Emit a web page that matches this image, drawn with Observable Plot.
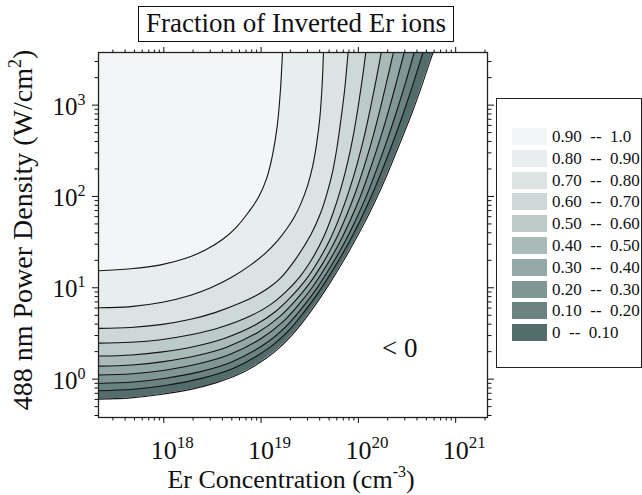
<!DOCTYPE html>
<html>
<head>
<meta charset="utf-8">
<script src="https://cdn.jsdelivr.net/npm/d3@7"></script>
<script src="https://cdn.jsdelivr.net/npm/@observablehq/plot@0.6"></script>
<style>
  body { margin: 0; background: #fff; }
  #wrap { position: relative; width: 642px; height: 495px; overflow: hidden;
          font-family: "Liberation Serif", "Times New Roman", serif; color: #111; }
  #chart { position: absolute; left: 0; top: 0; }
  #title { position: absolute; left: 138px; top: 6px; width: 316px; height: 36px; box-sizing: border-box;
           border: 1px solid #111; font-size: 27px; line-height: 33px; text-align: center; white-space: nowrap;
           font-family: "Liberation Serif", "Times New Roman", serif; }
  #legend { position: absolute; left: 496px; top: 98px; width: 146px; height: 270px; box-sizing: border-box;
            border: 1px solid #222; background: #fff; }
  .sw { position: absolute; left: 15px; width: 35px; height: 17px; }
  .lb { position: absolute; left: 55px; font-size: 17px; line-height: 17px; white-space: pre;
        font-family: "Liberation Serif", "Times New Roman", serif; }
</style>
</head>
<body>
<div id="wrap">
  <div id="chart"></div>
  <div id="title">Fraction of Inverted Er ions</div>
  <div id="legend"></div>
</div>
<script>
// ---- contour boundaries: log10(Er concentration / cm^-3), log10(power density / W cm^-2)
const logN_90 = [17.329,17.661,17.969,18.226,18.432,18.606,18.750,18.874,18.976,19.059,19.120,19.166,19.197,19.220];
const logP_90 = [1.186,1.208,1.251,1.323,1.416,1.531,1.668,1.832,1.996,2.204,2.467,2.773,3.135,3.576];
const logN_80 = [17.329,17.661,17.987,18.277,18.483,18.689,18.894,19.048,19.168,19.264,19.339,19.408,19.477,19.531,19.572,19.603,19.627,19.641];
const logP_80 = [0.781,0.794,0.841,0.918,1.000,1.109,1.251,1.383,1.514,1.646,1.769,1.919,2.116,2.335,2.587,2.850,3.211,3.576];
const logN_70 = [17.329,17.661,17.969,18.277,18.534,18.791,18.945,19.079,19.202,19.357,19.511,19.613,19.685,19.737,19.778,19.819,19.860,19.894];
const logP_70 = [0.556,0.566,0.597,0.655,0.731,0.835,0.912,1.000,1.109,1.317,1.580,1.821,2.062,2.281,2.522,2.828,3.179,3.576];
const logN_60 = [17.329,17.661,17.969,18.277,18.586,18.894,19.100,19.254,19.398,19.531,19.644,19.737,19.819,19.891,19.953,20.004,20.045,20.076];
const logP_60 = [0.394,0.404,0.432,0.485,0.567,0.693,0.819,0.956,1.120,1.328,1.558,1.810,2.084,2.379,2.697,3.025,3.321,3.576];
const logN_50 = [17.329,17.669,17.986,18.302,18.620,18.939,19.149,19.305,19.451,19.588,19.707,19.810,19.903,19.987,20.064,20.131,20.187,20.235];
const logP_50 = [0.253,0.265,0.298,0.355,0.446,0.593,0.741,0.897,1.075,1.293,1.527,1.782,2.058,2.355,2.675,3.004,3.301,3.576];
const logN_40 = [17.329,17.675,17.999,18.322,18.646,18.974,19.188,19.346,19.492,19.632,19.756,19.866,19.969,20.062,20.151,20.231,20.297,20.360];
const logP_40 = [0.142,0.155,0.192,0.253,0.350,0.516,0.681,0.851,1.040,1.265,1.503,1.762,2.040,2.337,2.658,2.988,3.285,3.576];
const logN_30 = [17.329,17.680,18.010,18.338,18.671,19.005,19.223,19.382,19.529,19.671,19.800,19.918,20.028,20.128,20.228,20.320,20.396,20.471];
const logP_30 = [0.045,0.059,0.097,0.162,0.266,0.447,0.626,0.810,1.009,1.241,1.481,1.742,2.022,2.320,2.644,2.973,3.270,3.576];
const logN_20 = [17.329,17.686,18.021,18.355,18.693,19.035,19.255,19.416,19.564,19.707,19.841,19.965,20.083,20.191,20.300,20.402,20.488,20.574];
const logP_20 = [-0.047,-0.032,0.010,0.077,0.186,0.382,0.576,0.772,0.980,1.216,1.462,1.724,2.006,2.305,2.630,2.960,3.257,3.576];
const logN_10 = [17.329,17.690,18.031,18.368,18.712,19.061,19.284,19.445,19.594,19.739,19.876,20.006,20.130,20.246,20.364,20.474,20.567,20.664];
const logP_10 = [-0.127,-0.111,-0.067,0.003,0.117,0.326,0.532,0.739,0.955,1.197,1.444,1.709,1.993,2.291,2.618,2.947,3.246,3.576];
const logN_00 = [17.329,17.661,17.969,18.277,18.534,18.771,18.976,19.151,19.305,19.449,19.593,19.727,19.850,19.963,20.076,20.179,20.281,20.374,20.466,20.559,20.651,20.734,20.768];
const logP_00 = [-0.219,-0.205,-0.168,-0.112,-0.041,0.053,0.173,0.310,0.469,0.655,0.868,1.087,1.301,1.514,1.739,1.963,2.204,2.445,2.686,2.938,3.211,3.474,3.576];

// band (legend) entries, lowest first
const bandLabels = ["0  --  0.10","0.10  --  0.20","0.20  --  0.30","0.30  --  0.40","0.40  --  0.50",
                    "0.50  --  0.60","0.60  --  0.70","0.70  --  0.80","0.80  --  0.90","0.90  --  1.0"];
const bandColors = ["#536d6c","#6a8382","#809695","#94a8a7","#a9bab9",
                    "#bccac9","#cdd8d7","#dce3e2","#e8eded","#f3f6f6"];

const xTickExps = [18, 19, 20, 21];
const yTickExps = [0, 1, 2, 3];
const belowZeroNote = [{logN: 20.425, logP: 0.337, text: "< 0"}];

const xDomainExp = [17.329, 21.327];
const yDomainExp = [-0.420, 3.576];

// ---- tables built from the arrays
const curveN = [logN_00, logN_10, logN_20, logN_30, logN_40, logN_50, logN_60, logN_70, logN_80, logN_90];
const curveP = [logP_00, logP_10, logP_20, logP_30, logP_40, logP_50, logP_60, logP_70, logP_80, logP_90];
const xDom = xDomainExp.map(e => 10 ** e);
const yDom = yDomainExp.map(e => 10 ** e);
const curves = curveN.map((ns, k) => ns.map((n, i) => ({x: 10 ** n, y: 10 ** curveP[k][i], x0: xDom[0]})));

const xMajor = xTickExps.map(e => 10 ** e);
const yMajor = yTickExps.map(e => 10 ** e);
const minorOf = (dom) => {
  const out = [];
  for (let e = Math.floor(Math.log10(dom[0])); e <= Math.ceil(Math.log10(dom[1])); e++)
    for (let m = 2; m <= 9; m++) { const v = m * 10 ** e; if (v >= dom[0] && v <= dom[1]) out.push(v); }
  return out;
};
const xMinor = minorOf(xDom), yMinor = minorOf(yDom);
const expFmt = d => `10^${Math.round(Math.log10(d))}`;
const blank = () => "";

const marks = [];
curves.forEach((pts, k) => marks.push(Plot.areaX(pts, {y: "y", x1: "x0", x2: "x", fill: bandColors[k], curve: "catmull-rom"})));
curves.forEach(pts => marks.push(Plot.line(pts, {x: "x", y: "y", stroke: "#151515", strokeWidth: 1.1, curve: "catmull-rom"})));
marks.push(Plot.text(belowZeroNote, {x: d => 10 ** d.logN, y: d => 10 ** d.logP, text: "text", fontSize: 27, fill: "#111"}));
marks.push(Plot.frame({stroke: "#222", strokeWidth: 1.3}));
marks.push(Plot.axisX({anchor: "bottom", ticks: xMajor, tickSize: 6, tickPadding: 17, tickFormat: expFmt, label: null}));
marks.push(Plot.axisX({anchor: "bottom", ticks: xMinor, tickSize: 3.5, tickFormat: blank, label: null}));
marks.push(Plot.axisX({anchor: "top", ticks: xMajor, tickSize: 6, tickFormat: blank, label: null}));
marks.push(Plot.axisX({anchor: "top", ticks: xMinor, tickSize: 3.5, tickFormat: blank, label: null}));
marks.push(Plot.axisY({anchor: "left", ticks: yMajor, tickSize: 6, tickPadding: 7, tickFormat: expFmt, label: null}));
marks.push(Plot.axisY({anchor: "left", ticks: yMinor, tickSize: 3.5, tickFormat: blank, label: null}));
marks.push(Plot.axisY({anchor: "right", ticks: yMajor, tickSize: 6, tickFormat: blank, label: null}));
marks.push(Plot.axisY({anchor: "right", ticks: yMinor, tickSize: 3.5, tickFormat: blank, label: null}));

const svg = Plot.plot({
  width: 642, height: 495,
  marginLeft: 98, marginRight: 155, marginTop: 52, marginBottom: 78,
  x: {type: "log", domain: xDom},
  y: {type: "log", domain: yDom},
  style: {fontFamily: '"Liberation Serif", "Times New Roman", serif', fontSize: "26px", color: "#111", background: "transparent"},
  marks
});
document.getElementById("chart").appendChild(svg);

// superscript exponents in tick labels
d3.select(svg).selectAll("text").each(function () {
  const m = /^10\^(-?\d+)$/.exec(this.textContent);
  if (!m) return;
  const isX = (this.parentNode.getAttribute("aria-label") || "").startsWith("x");
  this.textContent = "";
  const t = d3.select(this);
  if (isX) {
    t.attr("font-size", 26).attr("text-anchor", "start").attr("dx", -13);
    t.append("tspan").text("10");
    t.append("tspan").attr("dy", -11).attr("font-size", 17).text(m[1]);
  } else {
    t.attr("font-size", 25).attr("dy", "0.06em");
    t.append("tspan").text("10");
    t.append("tspan").attr("dy", -10).attr("font-size", 16).text(m[1]);
  }
});

// axis titles with superscripts
function supText(parent, x, y, rot, size, base, sup, tail) {
  const t = d3.select(parent).append("text")
    .attr("transform", `translate(${x},${y})` + (rot ? ` rotate(${rot})` : ""))
    .attr("text-anchor", "middle").attr("font-size", size).attr("fill", "#111")
    .attr("font-family", '"Liberation Serif", "Times New Roman", serif');
  t.append("tspan").text(base);
  t.append("tspan").attr("dy", -11).attr("font-size", Math.round(size * 0.63)).text(sup);
  t.append("tspan").attr("dy", 11).text(tail);
}
supText(svg, 291, 488, 0, 26, "Er Concentration (cm", "-3", ")");
supText(svg, 32, 230, -90, 28, "488 nm Power Density (W/cm", "2", ")");

// legend
const legend = document.getElementById("legend");
for (let i = bandLabels.length - 1, r = 0; i >= 0; i--, r++) {
  const top = 29 + r * 21.8;
  const sw = document.createElement("div");
  sw.className = "sw"; sw.style.top = top + "px"; sw.style.background = bandColors[i];
  const lb = document.createElement("div");
  lb.className = "lb"; lb.style.top = top + "px"; lb.textContent = bandLabels[i];
  legend.appendChild(sw); legend.appendChild(lb);
}
</script>
</body>
</html>
